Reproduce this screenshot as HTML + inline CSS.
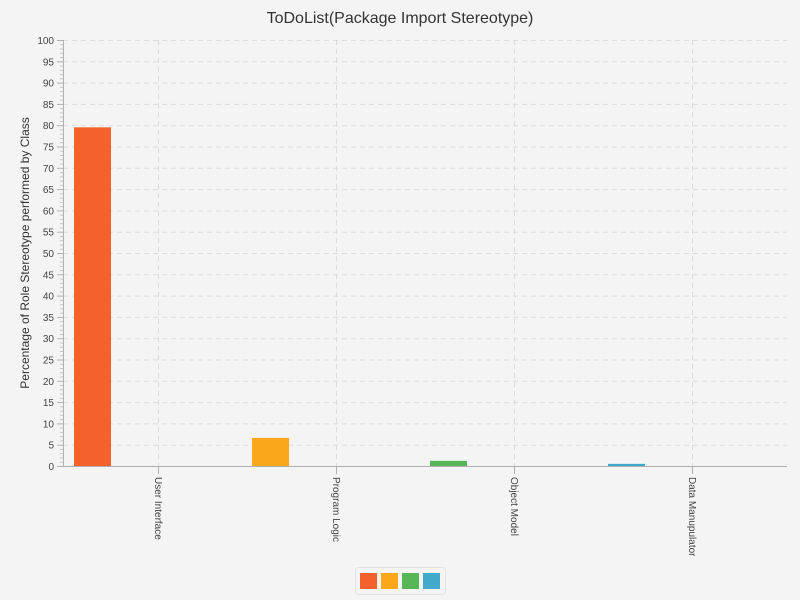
<!DOCTYPE html>
<html><head><meta charset="utf-8"><style>
body{margin:0;background:#f4f4f4;}
svg{display:block;font-family:"Liberation Sans",sans-serif;}
</style></head><body>
<svg id="chart" width="800" height="600">
<rect width="800" height="600" fill="#f4f4f4"/>
<text x="400" y="23" text-anchor="middle" font-size="16" fill="#333">ToDoList(Package Import Stereotype)</text>
<text transform="translate(29,253) rotate(-90)" text-anchor="middle" font-size="12" fill="#333">Percentage of Role Stereotype performed by Class</text>
<g id="grid"></g><g id="bars"></g><g id="axes"></g>
<g>
<rect x="355.5" y="567.5" width="90" height="27" rx="3" fill="#f4f4f4" stroke="#e2e2e2"/>
<g id="legend"></g>
</g>
</svg>
<script>
const categories=["User Interface","Program Logic","Object Model","Data Manupulator"];
const values=[79.5,6.6,1.2,0.5];
const colors=["#f3622d","#fba71b","#57b757","#41a9c9"];
const yTicks=[0,5,10,15,20,25,30,35,40,45,50,55,60,65,70,75,80,85,90,95,100];
const NS="http://www.w3.org/2000/svg";
const L=63,R=787,T=40,B=466,cw=178,c0=158;
const y=v=>B-(v/100)*(B-T);
const xc=i=>c0+i*cw;
function mk(t,a,p){const e=document.createElementNS(NS,t);for(const k in a)e.setAttribute(k,a[k]);p.appendChild(e);return e;}
const grid=document.getElementById('grid'),bars=document.getElementById('bars'),axes=document.getElementById('axes'),leg=document.getElementById('legend');
yTicks.forEach(v=>{
 if(v>0){const g=mk('line',{x1:L,x2:R,y1:y(v)+.5,y2:y(v)+.5,stroke:'#dcdcdc','stroke-dasharray':'5,4'},grid);
 
 }
 mk('line',{x1:L-6,x2:L,y1:y(v)+.5,y2:y(v)+.5,stroke:'#b0b0b0'},axes);
 const t=mk('text',{x:L-9,y:y(v)+4,'text-anchor':'end','font-size':'10',fill:'#444'},axes);t.textContent=v;
 
 
});
for(let m=0;m<100;m++){if(m%5)mk('line',{x1:L-3,x2:L,y1:y(m)+.5,y2:y(m)+.5,stroke:'#c4c4c4'},axes);}
categories.forEach((c,i)=>{
 const g=mk('line',{x1:xc(i)+.5,x2:xc(i)+.5,y1:T,y2:B,stroke:'#dcdcdc','stroke-dasharray':'5,4'},grid);
 
 
 const b=mk('rect',{x:xc(i)-84,y:y(values[i]),width:37,height:B-y(values[i]),fill:colors[i]},bars);
 
 
 mk('line',{x1:xc(i)+.5,x2:xc(i)+.5,y1:B,y2:B+8,stroke:'#b0b0b0'},axes);
 const t=mk('text',{transform:`translate(${xc(i)-3},${B+11}) rotate(90)`,'font-size':'10',fill:'#444'},axes);t.textContent=c;
 
 
 const s=mk('rect',{x:360+i*21,y:573,width:17,height:16,fill:colors[i]},leg);
 
 
});
mk('line',{x1:L+.5,x2:L+.5,y1:T,y2:B,stroke:'#b0b0b0'},axes);
mk('line',{x1:L,x2:R,y1:B+.5,y2:B+.5,stroke:'#b0b0b0'},axes);
</script>
</body></html>
